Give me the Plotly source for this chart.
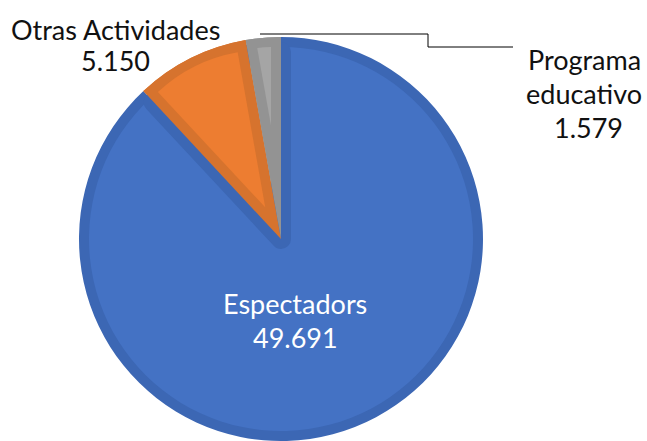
import math
import plotly.graph_objects as go

W, H = 647, 441

labels = ["Espectadors", "Otras Actividades", "Programa educativo"]
values = [49691, 5150, 1579]
light_colors = ["#4472C4", "#ED7D31", "#A5A5A5"]
dark_colors = ["#3C67B4", "#D6732E", "#939393"]

# label lines displayed on the chart
label_lines = [["Espectadors"], ["Otras Actividades"], ["Programa", "educativo"]]

CLEAR = "rgba(0,0,0,0)"


def fmt(v):
    return f"{v:,}".replace(",", ".")


def px_x(x):
    return x / W


def px_y(y):
    return 1 - y / H


def clamp(v):
    return min(1.0, max(0.0, v))


# pie geometry (pixels): centre, outer radius, inner border width
cx, cy, R, B = 281, 239, 202, 10

total = sum(values)
fracs = [v / total for v in values]


def pie(vals, colors, center, radius, lw=0, lc=CLEAR, hover=False):
    x, y = center
    return go.Pie(
        labels=labels[: len(vals)] if hover else None,
        values=vals,
        sort=False,
        direction="clockwise",
        rotation=0,
        textinfo="none",
        hoverinfo="label+value" if hover else "skip",
        marker=dict(colors=colors, line=dict(color=lc, width=lw)),
        domain=dict(x=[clamp(px_x(x - radius)), clamp(px_x(x + radius))],
                    y=[clamp(px_y(y + radius)), clamp(px_y(y - radius))]),
        showlegend=False,
    )


traces = []
# 1) every slice in its border (dark) colour
traces.append(pie(values, dark_colors, (cx, cy), R, hover=True))
# 2) light interior of the big slice
traces.append(pie(values, [light_colors[0], CLEAR, CLEAR], (cx, cy), R - B))
# 3) border of the big slice along the notch made by the two small slices
notch_vals = [values[0], values[1] + values[2]]
traces.append(pie(notch_vals, [CLEAR, CLEAR], (cx, cy), R - 1.5 * B,
                  lw=[0, 2 * B], lc=dark_colors[0]))
# 4) small slices in their border colours again
traces.append(pie(values, [CLEAR, dark_colors[1], dark_colors[2]], (cx, cy), R))
# 5) light interiors of the small slices (wedges inset by the border width)
start = 0.0
for i, f in enumerate(fracs):
    half = 180 * f
    if i > 0:
        bis = math.radians(start + half)
        d = B / math.sin(math.radians(half))
        sx = cx + d * math.sin(bis)
        sy = cy - d * math.cos(bis)
        r = R - B
        r0 = r - d
        r1 = math.sqrt(r * r + d * d - 2 * r * d * math.cos(math.radians(half)))
        cols = [CLEAR] * len(values)
        cols[i] = light_colors[i]
        traces.append(pie(values, cols, (sx, sy), (r0 + r1) / 2))
    start += 360 * f

fig = go.Figure(traces)

font_family = "Lato, 'Open Sans', sans-serif"
annotations = []

# label placement (pixel positions of each text line)
inside_pos = [(295, 303), (295, 337)]
otras_pos = [(115, 29), (115, 61)]
prog_pos = [(584, 59), (584, 94), (588, 127)]

specs = [
    (label_lines[0] + [fmt(values[0])], inside_pos, "white"),
    (label_lines[1] + [fmt(values[1])], otras_pos, "#111111"),
    (label_lines[2] + [fmt(values[2])], prog_pos, "#111111"),
]
for lines, poss, col in specs:
    for txt, (x, y) in zip(lines, poss):
        annotations.append(
            dict(
                text=txt,
                x=px_x(x),
                y=px_y(y),
                xref="paper",
                yref="paper",
                xanchor="center",
                yanchor="middle",
                showarrow=False,
                font=dict(family=font_family, size=27, color=col),
            )
        )

# leader line for "Programa educativo"
leader = [(260, 34), (428, 34), (428, 47), (513, 47)]
path = "M " + " L ".join(f"{px_x(x)},{px_y(y)}" for x, y in leader)

fig.update_layout(
    width=W,
    height=H,
    margin=dict(l=0, r=0, t=0, b=0),
    paper_bgcolor="white",
    plot_bgcolor="white",
    annotations=annotations,
    shapes=[
        dict(
            type="path",
            path=path,
            xref="paper",
            yref="paper",
            line=dict(color="#000000", width=1),
        )
    ],
)

fig.write_html(
    "out.html",
    config={"displayModeBar": False},
    post_script="document.body.style.margin='0px';document.body.style.overflow='hidden';",
)
